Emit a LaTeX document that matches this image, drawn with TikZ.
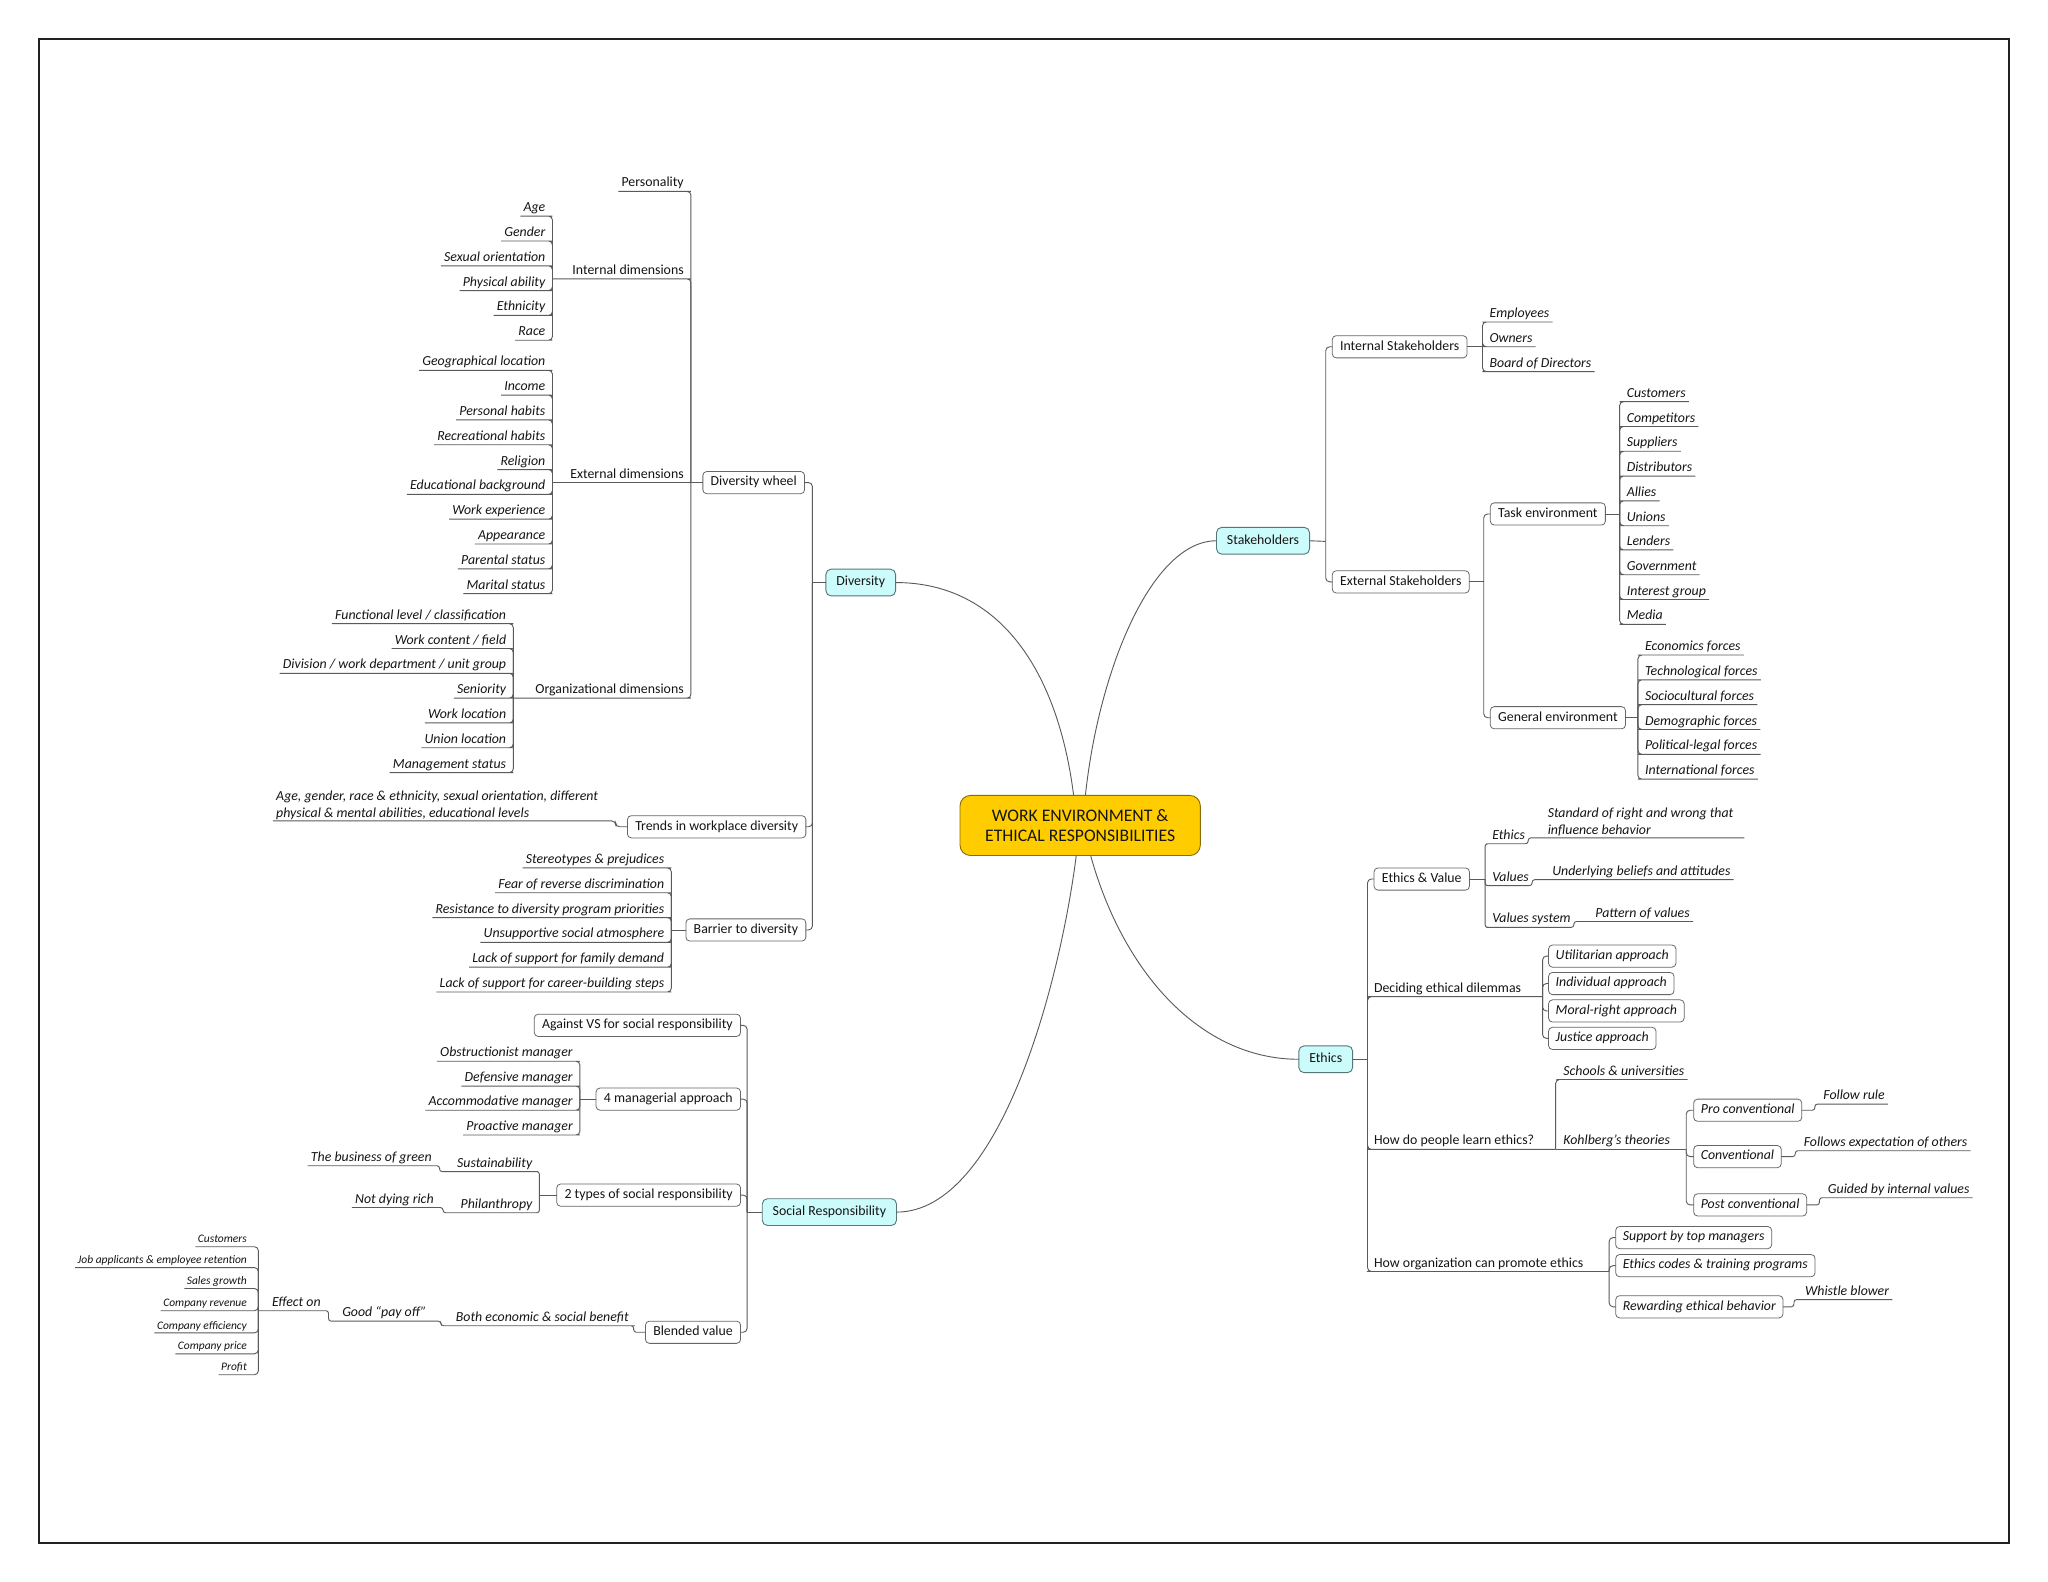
\documentclass[tikz,border=0pt]{standalone}
\usepackage{fontspec}
\setmainfont{Carlito}
\usetikzlibrary{calc}
\definecolor{ln}{HTML}{5A5A5A}
\definecolor{txt}{HTML}{151515}
\definecolor{topicfill}{HTML}{CCFBFB}
\definecolor{topicln}{HTML}{557777}
\definecolor{rootfill}{HTML}{FFCC00}
\definecolor{rootln}{HTML}{8A6D00}
\definecolor{boxln}{HTML}{666666}
\tikzset{
 mmtext/.style={font=\fontsize{10.6}{13}\selectfont, text=txt},
 conn/.style={draw=ln, line width=0.7pt, rounded corners=3pt},
 lbl/.style={mmtext, inner xsep=2.5pt, inner ysep=1.2pt, text height=7.3pt, text depth=2.2pt, outer sep=0pt},
 ilbl/.style={lbl, font=\fontsize{10.6}{13}\selectfont\itshape},
 mlbl/.style={mmtext, font=\fontsize{10.6}{13}\selectfont\itshape, align=left, inner xsep=2.5pt, inner ysep=1.2pt, outer sep=0pt},
 smlbl/.style={lbl, font=\fontsize{8.8}{10}\selectfont\itshape, text height=6pt, text depth=1.8pt, inner xsep=2pt},
 wbox/.style={mmtext, draw=boxln, fill=white, line width=0.6pt, rounded corners=3pt, inner xsep=6pt, inner ysep=0pt, text height=7.3pt, text depth=2.2pt, minimum height=17pt, outer sep=0pt},
 ibox/.style={wbox, inner xsep=5.5pt, font=\fontsize{10.6}{13}\selectfont\itshape},
 topic/.style={mmtext, draw=topicln, fill=topicfill, line width=0.7pt, rounded corners=4pt, inner xsep=8pt, inner ysep=0pt, text height=7.3pt, text depth=2.2pt, minimum height=20.5pt, outer sep=0pt},
 rootnode/.style={draw=rootln, fill=rootfill, line width=0.7pt, rounded corners=8pt, minimum width=184pt, minimum height=46pt, align=center, font=\fontsize{13.5}{15}\selectfont, text=txt, outer sep=0pt},
}
\begin{document}
\begin{tikzpicture}[x=1pt,y=-1pt]
\fill[white] (0,0) rectangle (1568,1211);
\useasboundingbox (0,0) rectangle (1568,1211);
\draw[line width=1.5pt, draw=black!87] (30,30) rectangle (1538,1181);

% ---------- root and main topics
\node[rootnode] (root) at (827,632) {WORK ENVIRONMENT \&\\ETHICAL RESPONSIBILITIES};
\node[topic] (div) at (659,446) {Diversity};
\node[topic] (stk) at (967,414) {Stakeholders};
\node[topic] (eth) at (1015,811) {Ethics};
\node[topic] (sr) at (635,928) {Social Responsibility};

\draw[conn] (div.east) .. controls +(80,0) and +(-12,-95) .. ($(root.north)+(-5,0)$);
\draw[conn] (stk.west) .. controls +(-50,0) and +(10,-95) .. ($(root.north)+(4,0)$);
\draw[conn] (sr.east) .. controls +(80,0) and +(-12,95) .. ($(root.south)+(-3,0)$);
\draw[conn] (eth.west) .. controls +(-75,0) and +(25,90) .. ($(root.south)+(8,0)$);

% ---------- Diversity
\coordinate (divS) at (622,446);
\draw[conn] (div.west) -- (divS);
\node[wbox, anchor=east] (dw) at (616,369.5) {Diversity wheel};
\node[wbox, anchor=east] (trends) at (617,633) {Trends in workplace diversity};
\node[wbox, anchor=east] (barrier) at (617,712) {Barrier to diversity};
\draw[conn] (divS) |- (dw.east);
\draw[conn] (divS) |- (trends.east);
\draw[conn] (divS) |- (barrier.east);

\coordinate (dwS) at (529,369.5);
\draw[conn] (dw.west) -- (dwS);
\node[lbl, anchor=south east] (pers) at (526,146.5) {Personality};
\node[lbl, anchor=south east] (indim) at (526,213.5) {Internal dimensions};
\node[lbl, anchor=south east] (exdim) at (526,369.5) {External dimensions};
\node[lbl, anchor=south east] (orgdim) at (526,534.5) {Organizational dimensions};
\coordinate (inS) at (423,213.5);
\coordinate (exS) at (423,369.5);
\coordinate (orgS) at (393,534.5);
\draw[conn] (dwS) |- (pers.south east) -- (pers.south west);
\draw[conn] (dwS) |- (indim.south east) -- (inS);
\draw[conn] (dwS) -- (exdim.south east) -- (exS);
\draw[conn] (dwS) |- (orgdim.south east) -- (orgS);

\foreach \n/\y/\t in {age/165.5/Age, gend/184.5/Gender, sexo/203.5/Sexual orientation, phys/222.5/Physical ability, ethn/241.5/Ethnicity, race/260.5/Race}{
 \node[ilbl, anchor=south east] (\n) at (420,\y) {\t};
 \draw[conn] (inS) |- (\n.south east) -- (\n.south west);
}
\foreach \n/\y/\t in {geo/283.5/Geographical location, inc/302.5/Income, phab/321.5/Personal habits, rhab/340.5/Recreational habits, relg/359.5/Religion, educ/378.5/Educational background, wexp/397.5/Work experience, appr/416.5/Appearance, pars/435.5/Parental status, mars/454.5/Marital status}{
 \node[ilbl, anchor=south east] (\n) at (420,\y) {\t};
 \draw[conn] (exS) |- (\n.south east) -- (\n.south west);
}
\foreach \n/\y/\t in {flev/477.5/{Functional level / classification}, wcon/496.5/{Work content / field}, divi/515.5/{Division / work department / unit group}, seni/534.5/Seniority, wloc/553.5/Work location, uloc/572.5/Union location, mgst/591.5/Management status}{
 \node[ilbl, anchor=south east] (\n) at (390,\y) {\t};
 \draw[conn] (orgS) |- (\n.south east) -- (\n.south west);
}

\node[mlbl, anchor=south west] (tc) at (209,628.5) {Age, gender, race \& ethnicity, sexual orientation, different\\physical \& mental abilities, educational levels};
\draw[conn] (trends.west) -- ++(-9,0) |- (tc.south east) -- (tc.south west);

\coordinate (bS) at (514,712);
\draw[conn] (barrier.west) -- (bS);
\foreach \n/\y/\t in {bar1/664.5/Stereotypes \& prejudices, bar2/683.5/Fear of reverse discrimination, bar3/702.5/Resistance to diversity program priorities, bar4/721.5/Unsupportive social atmosphere, bar5/740.5/Lack of support for family demand, bar6/759.5/Lack of support for career-building steps}{
 \node[ilbl, anchor=south east] (\n) at (511,\y) {\t};
 \draw[conn] (bS) |- (\n.south east) -- (\n.south west);
}

% ---------- Social Responsibility
\coordinate (srS) at (572,928);
\draw[conn] (sr.west) -- (srS);
\node[wbox, anchor=east] (against) at (567,785) {Against VS for social responsibility};
\node[wbox, anchor=east] (mgr) at (567,841.5) {4 managerial approach};
\node[wbox, anchor=east] (types) at (567,915) {2 types of social responsibility};
\node[wbox, anchor=east] (blend) at (567,1020) {Blended value};
\draw[conn] (srS) |- (against.east);
\draw[conn] (srS) |- (mgr.east);
\draw[conn] (srS) |- (types.east);
\draw[conn] (srS) |- (blend.east);

\coordinate (mgrS) at (444,841.5);
\draw[conn] (mgr.west) -- (mgrS);
\foreach \n/\y/\t in {mg1/812.5/Obstructionist manager, mg2/831.5/Defensive manager, mg3/850/Accommodative manager, mg4/869/Proactive manager}{
 \node[ilbl, anchor=south east] (\n) at (441,\y) {\t};
 \draw[conn] (mgrS) |- (\n.south east) -- (\n.south west);
}

\coordinate (typS) at (413,915);
\draw[conn] (types.west) -- (typS);
\node[ilbl, anchor=south east] (sust) at (410,897) {\hspace{11pt}Sustainability};
\node[ilbl, anchor=south east] (green) at (333,892.5) {The business of green};
\node[ilbl, anchor=south east] (phil) at (410,928.5) {\hspace{11pt}Philanthropy};
\node[ilbl, anchor=south east] (rich) at (334.5,924.5) {Not dying rich};
\draw[conn, rounded corners=2pt] (typS) |- (sust.south east) -- (sust.south west) |- (green.south east) -- (green.south west);
\draw[conn, rounded corners=2pt] (typS) |- (phil.south east) -- (phil.south west) |- (rich.south east) -- (rich.south west);

\node[ilbl, anchor=south east] (both) at (484,1015) {\hspace{9pt}Both economic \& social benefit\hspace{6pt}};
\node[ilbl, anchor=south east] (good) at (329,1011.5) {\hspace{8pt}Good “pay off”\hspace{2pt}};
\node[ilbl, anchor=south east] (effect) at (248,1003.5) {\hspace{8pt}Effect on\hspace{2pt}};
\draw[conn, rounded corners=2pt] (blend.west) -- ++(-9,0) |- (both.south east) -- (both.south west) |- (good.south east) -- (good.south west) |- (effect.south east) -- (effect.south west);
\foreach \n/\y/\t in {ef1/954.5/Customers, ef2/970.5/Job applicants \& employee retention, ef3/986.5/Sales growth, ef4/1003.5/Company revenue, ef5/1020.5/Company efficiency, ef6/1036.5/Company price, ef7/1052.5/Profit}{
 \node[smlbl, anchor=south east] (\n) at (191,\y) {\t};
 \draw[conn] (effect.south west) |- (\n.south east) -- (\n.south west);
}

% ---------- Stakeholders
\coordinate (stS) at (1015,414.5);
\draw[conn] (stk.east) -- (stS);
\node[wbox, anchor=west] (ist) at (1020,265.5) {Internal Stakeholders};
\node[wbox, anchor=west] (est) at (1020,445.5) {External Stakeholders};
\draw[conn] (stS) |- (ist.west);
\draw[conn] (stS) |- (est.west);

\coordinate (istS) at (1135,265.5);
\draw[conn] (ist.east) -- (istS);
\foreach \n/\y/\t in {emp/246.5/Employees, own/265.5/Owners, bod/284.5/Board of Directors}{
 \node[ilbl, anchor=south west] (\n) at (1138,\y) {\t};
 \draw[conn] (istS) |- (\n.south west) -- (\n.south east);
}

\coordinate (estS) at (1136,445.5);
\draw[conn] (est.east) -- (estS);
\node[wbox, anchor=west] (task) at (1141,393.5) {Task environment};
\node[wbox, anchor=west] (genv) at (1141,549.5) {General environment};
\draw[conn] (estS) |- (task.west);
\draw[conn] (estS) |- (genv.west);

\coordinate (taskS) at (1240,393.5);
\draw[conn] (task.east) -- (taskS);
\foreach \n/\y/\t in {tk1/307.5/Customers, tk2/326.5/Competitors, tk3/345.5/Suppliers, tk4/364.5/Distributors, tk5/383.5/Allies, tk6/402.5/Unions, tk7/421/Lenders, tk8/440/Government, tk9/459/Interest group, tk10/478/Media}{
 \node[ilbl, anchor=south west] (\n) at (1243,\y) {\t};
 \draw[conn] (taskS) |- (\n.south west) -- (\n.south east);
}
\coordinate (genS) at (1254,549.5);
\draw[conn] (genv.east) -- (genS);
\foreach \n/\y/\t in {ge1/501.5/Economics forces, ge2/520.5/Technological forces, ge3/539.5/Sociocultural forces, ge4/558.5/Demographic forces, ge5/577.5/Political-legal forces, ge6/596.5/International forces}{
 \node[ilbl, anchor=south west] (\n) at (1257,\y) {\t};
 \draw[conn] (genS) |- (\n.south west) -- (\n.south east);
}

% ---------- Ethics
\coordinate (ethS) at (1047,811);
\draw[conn] (eth.east) -- (ethS);
\node[wbox, anchor=west] (ev) at (1052,673) {Ethics \& Value};
\draw[conn] (ethS) |- (ev.west);
\coordinate (evS) at (1137,673);
\draw[conn] (ev.east) -- (evS);

\node[ilbl, anchor=south west] (ev1) at (1140,646) {Ethics\hspace{9pt}};
\node[mlbl, anchor=south west] (evd1) at (1182.5,641.5) {Standard of right and wrong that\\influence behavior\vphantom{y}};
\draw[conn, rounded corners=2pt] (evS) |- (ev1.south west) -- (ev1.south east) |- (evd1.south west) -- (evd1.south east) -- ++(6,0);
\node[ilbl, anchor=south west] (ev2) at (1140,678) {Values\hspace{10pt}};
\node[ilbl, anchor=south west] (evd2) at (1186,673.5) {Underlying beliefs and attitudes};
\draw[conn, rounded corners=2pt] (evS) |- (ev2.south west) -- (ev2.south east) |- (evd2.south west) -- (evd2.south east);
\node[ilbl, anchor=south west] (ev3) at (1140,710) {Values system\hspace{11pt}};
\node[ilbl, anchor=south west] (evd3) at (1219,705.5) {Pattern of values};
\draw[conn, rounded corners=2pt] (evS) |- (ev3.south west) -- (ev3.south east) |- (evd3.south west) -- (evd3.south east);

\node[lbl, anchor=south west] (ded) at (1049.5,763) {Deciding ethical dilemmas};
\coordinate (dedS) at (1181,763);
\draw[conn] (ethS) |- (ded.south west) -- (dedS);
\foreach \n/\y/\t in {ap1/732/Utilitarian approach, ap2/753/Individual approach, ap3/774/Moral-right approach, ap4/795/Justice approach}{
 \node[ibox, anchor=west] (\n) at (1185.6,\y) {\t};
 \draw[conn] (dedS) |- (\n.west);
}

\node[lbl, anchor=south west] (learn) at (1049.5,880) {How do people learn ethics?};
\coordinate (learnS) at (1191,880);
\draw[conn] (ethS) |- (learn.south west) -- (learnS);
\node[ilbl, anchor=south west] (schools) at (1194.5,826.5) {Schools \& universities};
\node[ilbl, anchor=south west] (kohl) at (1194.5,880) {Kohlberg's theories};
\coordinate (kohlS) at (1291,880);
\draw[conn] (learnS) |- (schools.south west) -- (schools.south east);
\draw[conn] (learnS) -- (kohl.south west) -- (kohlS);
\node[ibox, anchor=west] (pro) at (1296.7,850) {Pro conventional};
\node[ibox, anchor=west] (conv) at (1296.7,885.5) {Conventional};
\node[ibox, anchor=west] (post) at (1296.7,922.5) {Post conventional};
\draw[conn] (kohlS) |- (pro.west);
\draw[conn] (kohlS) |- (conv.west);
\draw[conn] (kohlS) |- (post.west);
\node[ilbl, anchor=south west] (frule) at (1393.5,845.3) {Follow rule};
\node[ilbl, anchor=south west] (fexp) at (1378.5,881) {Follows expectation of others};
\node[ilbl, anchor=south west] (guid) at (1397,917) {Guided by internal values};
\draw[conn, rounded corners=2pt] (pro.east) -| ($(frule.south west)+(-4,0)$) -- (frule.south west) -- (frule.south east);
\draw[conn, rounded corners=2pt] (conv.east) -| ($(fexp.south west)+(-4,0)$) -- (fexp.south west) -- (fexp.south east);
\draw[conn, rounded corners=2pt] (post.east) -| ($(guid.south west)+(-4,0)$) -- (guid.south west) -- (guid.south east);

\node[lbl, anchor=south west] (prom) at (1049.5,973.5) {How organization can promote ethics};
\coordinate (promS) at (1232,973.5);
\draw[conn] (ethS) |- (prom.south west) -- (promS);
\foreach \n/\y/\t in {pr1/947.5/Support by top managers, pr2/969/Ethics codes \& training programs, pr3/1000.5/Rewarding ethical behavior}{
 \node[ibox, anchor=west] (\n) at (1237,\y) {\t};
 \draw[conn] (promS) |- (\n.west);
}
\node[ilbl, anchor=south west] (wb) at (1379.5,995) {Whistle blower};
\draw[conn, rounded corners=2pt] (pr3.east) -| ($(wb.south west)+(-6,0)$) -- (wb.south west) -- (wb.south east);
\end{tikzpicture}
\end{document}
